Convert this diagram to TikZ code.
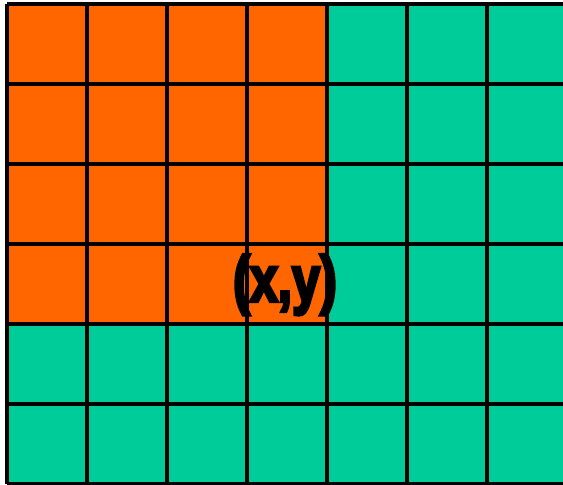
\documentclass[tikz,border=0pt]{standalone}
\usepackage{fontspec}
\setmainfont{Liberation Sans}
\usetikzlibrary{positioning}
\definecolor{cellorange}{HTML}{FF6600}
\definecolor{cellteal}{HTML}{00CC99}
% heavier strokes for the point label
\newcommand{\heavytext}[1]{\special{pdf:literal direct 2 Tr 1.2 w}#1\special{pdf:literal direct 0 Tr}}
\tikzset{ptlabel/.style={font=\bfseries\fontsize{23}{23}\selectfont, xscale=0.78, inner sep=0pt}}
\begin{document}
\begin{tikzpicture}[x=1cm,y=1cm]
  \useasboundingbox (-0.0875,0) rectangle (6.95,6.05);
  % cells
  \fill[cellteal] (0,0) rectangle (7,6);
  \fill[cellorange] (0,2) rectangle (4,6);
  % grid
  \draw[line width=1.1pt] (0,0) grid (7,6);
  % label
  \node[ptlabel] (pt) at (3.475,2.49) {\heavytext{(x,y)}};
\end{tikzpicture}
\end{document}
